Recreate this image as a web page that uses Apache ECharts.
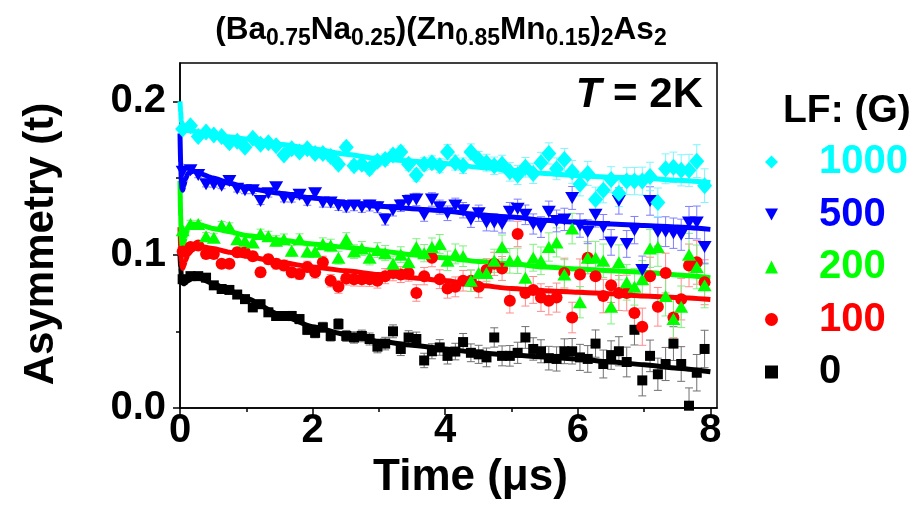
<!DOCTYPE html>
<html>
<head>
<meta charset="utf-8">
<script src="https://cdn.jsdelivr.net/npm/echarts@6/dist/echarts.min.js"></script>
<style>
  html, body { margin: 0; padding: 0; background: #ffffff; }
  #chart { width: 915px; height: 505px; }
</style>
</head>
<body>
<div id="chart"></div>
<script>
// Time bins (μs) shared by all longitudinal-field runs
const timeBins = [
  0.040, 0.158, 0.275, 0.393, 0.510, 0.628, 0.745, 0.863, 0.980, 1.098,
  1.215, 1.333, 1.450, 1.568, 1.685, 1.803, 1.920, 2.038, 2.155, 2.273,
  2.390, 2.508, 2.625, 2.743, 2.860, 2.978, 3.095, 3.213, 3.330, 3.448,
  3.565, 3.683, 3.800, 3.918, 4.035, 4.153, 4.270, 4.388, 4.505, 4.623,
  4.740, 4.858, 4.975, 5.093, 5.210, 5.328, 5.445, 5.563, 5.680, 5.798,
  5.915, 6.033, 6.150, 6.268, 6.385, 6.503, 6.620, 6.738, 6.855, 6.973,
  7.090, 7.208, 7.325, 7.443, 7.560, 7.678, 7.795, 7.913
];

// Asymmetry per field (G)
const asym1000 = [
  0.182, 0.184, 0.177, 0.180, 0.178, 0.177, 0.173, 0.174, 0.170, 0.176,
  0.172, 0.173, 0.171, 0.165, 0.169, 0.167, 0.169, 0.166, 0.166, 0.164,
  0.159, 0.170, 0.158, 0.159, 0.156, 0.161, 0.162, 0.165, 0.167, 0.159,
  0.152, 0.159, 0.160, 0.158, 0.167, 0.160, 0.158, 0.167, 0.162, 0.160,
  0.158, 0.159, 0.154, 0.152, 0.157, 0.153, 0.160, 0.166, 0.156, 0.162,
  0.154, 0.146, 0.153, 0.136, 0.142, 0.149, 0.140, 0.148, 0.148, 0.148,
  0.151, 0.134, 0.156, 0.157, 0.155, 0.155, 0.161, 0.145
];
const asym500 = [
  0.154, 0.155, 0.152, 0.146, 0.146, 0.145, 0.148, 0.143, 0.142, 0.142,
  0.135, 0.140, 0.144, 0.137, 0.137, 0.139, 0.135, 0.140, 0.134, 0.134,
  0.132, 0.131, 0.132, 0.131, 0.132, 0.131, 0.123, 0.129, 0.132, 0.135,
  0.136, 0.126, 0.136, 0.131, 0.127, 0.132, 0.129, 0.123, 0.127, 0.121,
  0.121, 0.120, 0.128, 0.130, 0.126, 0.120, 0.118, 0.128, 0.122, 0.123,
  0.137, 0.119, 0.115, 0.126, 0.118, 0.108, 0.135, 0.107, 0.116, 0.090,
  0.135, 0.115, 0.115, 0.114, 0.113, 0.121, 0.121, 0.105
];
const asym200 = [
  0.116, 0.120, 0.120, 0.112, 0.111, 0.119, 0.118, 0.110, 0.109, 0.108,
  0.1135, 0.112, 0.109, 0.110, 0.1025, 0.110, 0.102, 0.102, 0.107, 0.106,
  0.098, 0.110, 0.102, 0.104, 0.098, 0.103, 0.101, 0.094, 0.100, 0.095,
  0.105, 0.101, 0.105, 0.107, 0.096, 0.1005, 0.099, 0.083, 0.088, 0.088,
  0.096, 0.105, 0.096, 0.096, 0.085, 0.098, 0.096, 0.105, 0.108, 0.087,
  0.117, 0.069, 0.098, 0.098, 0.096, 0.066, 0.095, 0.082, 0.079, 0.084,
  0.104, 0.105, 0.073, 0.058, 0.066, 0.100, 0.092, 0.080
];
const asym100 = [
  0.102, 0.105, 0.106, 0.1005, 0.1005, 0.094, 0.094, 0.1015, 0.1015, 0.099,
  0.0885, 0.097, 0.094, 0.093, 0.0885, 0.0874, 0.092, 0.0885, 0.095, 0.083,
  0.079, 0.0845, 0.084, 0.084, 0.084, 0.083, 0.086, 0.088, 0.087, 0.088,
  0.075, 0.086, 0.098, 0.084, 0.078, 0.079, 0.083, 0.083, 0.079, 0.090,
  0.094, 0.091, 0.070, 0.1135, 0.075, 0.077, 0.072, 0.070, 0.072, 0.088,
  0.059, 0.087, 0.098, 0.086, 0.073, 0.080, 0.075, 0.075, 0.062, 0.053,
  0.086, 0.066, 0.088, 0.059, 0.071, 0.093, 0.095, 0.082
];
const asym0 = [
  0.084, 0.086, 0.086, 0.085, 0.080, 0.0776, 0.077, 0.074, 0.071, 0.0656,
  0.0677, 0.0624, 0.060, 0.060, 0.060, 0.058, 0.051, 0.049, 0.0526, 0.047,
  0.0548, 0.047, 0.046, 0.047, 0.045, 0.040, 0.042, 0.050, 0.0385, 0.046,
  0.045, 0.031, 0.037, 0.0395, 0.034, 0.0368, 0.043, 0.036, 0.035, 0.033,
  0.046, 0.034, 0.034, 0.036, 0.046, 0.0385, 0.037, 0.0325, 0.032, 0.037,
  0.037, 0.033, 0.032, 0.042, 0.0287, 0.0345, 0.037, 0.030, 0.051, 0.018,
  0.034, 0.022, 0.0287, 0.042, 0.0287, 0.0015, 0.023, 0.0385
];

// Statistical error per time bin (half length of the bar)
const errSize = [
  0.0018, 0.0020, 0.0020, 0.0020, 0.0022, 0.0022, 0.0023, 0.0024, 0.0025, 0.0025,
  0.0026, 0.0027, 0.0028, 0.0029, 0.0030, 0.0030, 0.0031, 0.0032, 0.0033, 0.0034,
  0.0035, 0.0036, 0.0037, 0.0038, 0.0039, 0.0040, 0.0041, 0.0042, 0.0043, 0.0044,
  0.0045, 0.0047, 0.0049, 0.0051, 0.0053, 0.0054, 0.0056, 0.0058, 0.0059, 0.0061,
  0.0063, 0.0065, 0.0067, 0.0069, 0.0071, 0.0073, 0.0075, 0.0077, 0.0079, 0.0081,
  0.0083, 0.0085, 0.0087, 0.0089, 0.0091, 0.0093, 0.0095, 0.0097, 0.0099, 0.0101,
  0.0103, 0.0105, 0.0108, 0.0110, 0.0113, 0.0116, 0.0119, 0.0122
];

// Fitted relaxation curves
const fitTime = [0, 0.01, 0.02, 0.03, 0.04, 0.06, 0.08, 0.12, 0.2, 0.3, 0.5, 0.75, 1,
  1.5, 2, 2.5, 3, 3.5, 4, 4.5, 5, 5.5, 6, 6.5, 7, 7.5, 8];
const fit1000 = [0.200, 0.193, 0.187, 0.184, 0.183, 0.182, 0.1815, 0.181, 0.1805, 0.180, 0.178, 0.1768, 0.1755,
  0.172, 0.169, 0.1655, 0.1625, 0.161, 0.1595, 0.157, 0.155, 0.153, 0.1515, 0.1505, 0.150, 0.1485, 0.147];
const fit500 = [0.179, 0.160, 0.148, 0.143, 0.142, 0.145, 0.149, 0.153, 0.1545, 0.153, 0.150, 0.1465, 0.1435,
  0.140, 0.137, 0.134, 0.1315, 0.130, 0.1285, 0.126, 0.1245, 0.1225, 0.121, 0.120, 0.119, 0.118, 0.1165];
const fit200 = [0.148, 0.125, 0.111, 0.106, 0.105, 0.108, 0.112, 0.117, 0.120, 0.1195, 0.117, 0.115, 0.1125,
  0.1095, 0.107, 0.1048, 0.1026, 0.100, 0.098, 0.0955, 0.094, 0.092, 0.0907, 0.0895, 0.0885, 0.0868, 0.085];
const fit100 = [0.118, 0.105, 0.096, 0.092, 0.091, 0.093, 0.096, 0.100, 0.104, 0.1055, 0.104, 0.1015, 0.099,
  0.095, 0.092, 0.0895, 0.087, 0.085, 0.083, 0.080, 0.078, 0.0765, 0.0755, 0.0745, 0.073, 0.072, 0.0707];
const fit0 = [0.100, 0.092, 0.086, 0.083, 0.0815, 0.081, 0.0815, 0.083, 0.085, 0.0845, 0.081, 0.0765, 0.0715,
  0.061, 0.053, 0.048, 0.0435, 0.041, 0.0385, 0.036, 0.0345, 0.0333, 0.032, 0.030, 0.0282, 0.026, 0.0237];

// Tick labels
const xMajorTicks = [0, 2, 4, 6, 8];
const xMinorTicks = [1, 3, 5, 7];
const yMajorTicks = [0, 0.1, 0.2];
const yMinorTicks = [0.05, 0.15];

const FONT = '"Liberation Sans", Arial, Helvetica, sans-serif';
const DOWN_TRIANGLE = 'path://M0,0L12,0L6,11Z';

const runs = [
  { name: '1000', values: asym1000, fit: fit1000, color: '#00ffff', barColor: '#7ff5ff', errScale: 0.9,
    symbol: 'diamond', icon: 'diamond', size: [15, 17], rotate: 0 },
  { name: '500', values: asym500, fit: fit500, color: '#0000ff', barColor: '#7f7fff', errScale: 0.9,
    symbol: 'triangle', icon: DOWN_TRIANGLE, size: [14, 12], rotate: 180 },
  { name: '200', values: asym200, fit: fit200, color: '#00ff00', barColor: '#80f080', errScale: 1.2,
    symbol: 'triangle', icon: 'triangle', size: [14, 12], rotate: 0 },
  { name: '100', values: asym100, fit: fit100, color: '#ff0000', barColor: '#ff8c8c', errScale: 1.2,
    symbol: 'circle', icon: 'circle', size: 12, rotate: 0 },
  { name: '0', values: asym0, fit: fit0, color: '#000000', barColor: '#707070', errScale: 1.0,
    symbol: 'rect', icon: 'rect', size: 10, rotate: 0 }
];

function errorBars(run) {
  return {
    type: 'custom',
    name: run.name + ' error',
    xAxisIndex: 0, yAxisIndex: 0,
    silent: true,
    z: 1,
    clip: true,
    encode: { x: 0, y: [1, 2] },
    data: run.values.map((v, i) => [timeBins[i], v - errSize[i] * run.errScale, v + errSize[i] * run.errScale]),
    renderItem: function (params, api) {
      const lo = api.coord([api.value(0), api.value(1)]);
      const hi = api.coord([api.value(0), api.value(2)]);
      const cap = 4;
      const style = { stroke: run.barColor, lineWidth: 1, fill: null };
      return {
        type: 'group',
        children: [
          { type: 'line', shape: { x1: hi[0], y1: hi[1], x2: lo[0], y2: lo[1] }, style: style },
          { type: 'line', shape: { x1: hi[0] - cap, y1: hi[1], x2: hi[0] + cap, y2: hi[1] }, style: style },
          { type: 'line', shape: { x1: lo[0] - cap, y1: lo[1], x2: lo[0] + cap, y2: lo[1] }, style: style }
        ]
      };
    }
  };
}

function fitLine(run) {
  return {
    type: 'line',
    name: run.name + ' fit',
    xAxisIndex: 0, yAxisIndex: 0,
    silent: true,
    z: 2,
    showSymbol: false,
    symbol: 'none',
    smooth: 0.2,
    smoothMonotone: 'x',
    clip: true,
    lineStyle: { color: run.color, width: 5 },
    data: fitTime.map((t, i) => [t, run.fit[i]])
  };
}

function points(run) {
  return {
    type: 'scatter',
    name: run.name,
    xAxisIndex: 0, yAxisIndex: 0,
    z: 3,
    symbol: run.symbol,
    symbolSize: run.size,
    symbolRotate: run.rotate,
    itemStyle: { color: run.color, opacity: 1 },
    data: run.values.map((v, i) => [timeBins[i], v])
  };
}

const series = [];
runs.slice().reverse().forEach(r => series.push(errorBars(r)));
runs.slice().reverse().forEach(r => series.push(fitLine(r)));
runs.slice().reverse().forEach(r => series.push(points(r)));

const axisFont = { fontFamily: FONT, fontWeight: 'bold', color: '#000' };

const chart = echarts.init(document.getElementById('chart'), null, { renderer: 'canvas' });
chart.setOption({
  animation: false,
  backgroundColor: '#ffffff',
  grid: {
    left: 180, top: 63, width: 537, height: 345,
    show: true, borderColor: '#000', borderWidth: 1.5,
    containLabel: false, outerBoundsMode: 'none'
  },
  xAxis: [
    {
      type: 'value', min: 0, max: 8.1, position: 'bottom',
      axisLine: { show: true, onZero: false, lineStyle: { color: '#000', width: 1.5 } },
      axisTick: { show: true, customValues: xMajorTicks, length: 7, lineStyle: { color: '#000', width: 1.5 } },
      axisLabel: Object.assign({ customValues: xMajorTicks, fontSize: 40, margin: 3 }, axisFont),
      splitLine: { show: false },
      name: 'Time (μs)', nameLocation: 'middle', nameGap: 48,
      nameTextStyle: Object.assign({ fontSize: 44, padding: [0, 0, 0, 44] }, axisFont)
    },
    {
      type: 'value', min: 0, max: 8.1, position: 'bottom',
      axisLine: { show: false, onZero: false },
      axisTick: { show: true, customValues: xMinorTicks, length: 4, lineStyle: { color: '#000', width: 1.5 } },
      axisLabel: { show: false },
      splitLine: { show: false }
    }
  ],
  yAxis: [
    {
      type: 'value', min: 0, max: 0.225, position: 'left',
      axisLine: { show: true, onZero: false, lineStyle: { color: '#000', width: 1.5 } },
      axisTick: { show: true, customValues: yMajorTicks, length: 7, lineStyle: { color: '#000', width: 1.5 } },
      axisLabel: Object.assign({ customValues: yMajorTicks, fontSize: 40, margin: 14,
        formatter: v => Number(v).toFixed(1) }, axisFont),
      splitLine: { show: false },
      name: 'Asymmetry (t)', nameLocation: 'middle', nameRotate: 90, nameGap: 118,
      nameTextStyle: Object.assign({ fontSize: 42, padding: [0, 17, 0, 0] }, axisFont)
    },
    {
      type: 'value', min: 0, max: 0.225, position: 'left',
      axisLine: { show: false, onZero: false },
      axisTick: { show: true, customValues: yMinorTicks, length: 4, lineStyle: { color: '#000', width: 1.5 } },
      axisLabel: { show: false },
      splitLine: { show: false }
    }
  ],
  legend: {
    orient: 'vertical',
    left: 760, top: 137,
    padding: 5,
    itemWidth: 13, itemHeight: 13, itemGap: 12.5,
    selectedMode: false,
    symbolKeepAspect: true,
    textStyle: { fontFamily: FONT, fontWeight: 'bold', fontSize: 40, lineHeight: 40, padding: [0, 0, 0, 36] },
    data: runs.map(r => ({ name: r.name, icon: r.icon, textStyle: { color: r.color } }))
  },
  graphic: [
    {
      type: 'text', x: 441, y: 30, silent: true,
      style: {
        text: '{m|(Ba}{s|0.75}{m|Na}{s|0.25}{m|)(Zn}{s|0.85}{m|Mn}{s|0.15}{m|)}{s|2}{m|As}{s|2}',
        align: 'center', verticalAlign: 'middle',
        rich: {
          m: { fontFamily: FONT, fontWeight: 'bold', fontSize: 31.5, lineHeight: 40, fill: '#000', verticalAlign: 'middle' },
          s: { fontFamily: FONT, fontWeight: 'bold', fontSize: 23, lineHeight: 14, fill: '#000', verticalAlign: 'bottom' }
        }
      }
    },
    {
      type: 'text', x: 703, y: 95, silent: true,
      style: {
        text: '{i|T}{b| = 2K}',
        align: 'right', verticalAlign: 'middle',
        rich: {
          i: { fontFamily: FONT, fontWeight: 'bold', fontStyle: 'italic', fontSize: 42, fill: '#000' },
          b: { fontFamily: FONT, fontWeight: 'bold', fontSize: 42, fill: '#000' }
        }
      }
    },
    {
      type: 'text', x: 783, y: 111, silent: true,
      style: {
        text: 'LF: (G)', align: 'left', verticalAlign: 'middle',
        fontFamily: FONT, fontWeight: 'bold', fontSize: 39, fill: '#000'
      }
    }
  ],
  series: series
});
</script>
</body>
</html>
